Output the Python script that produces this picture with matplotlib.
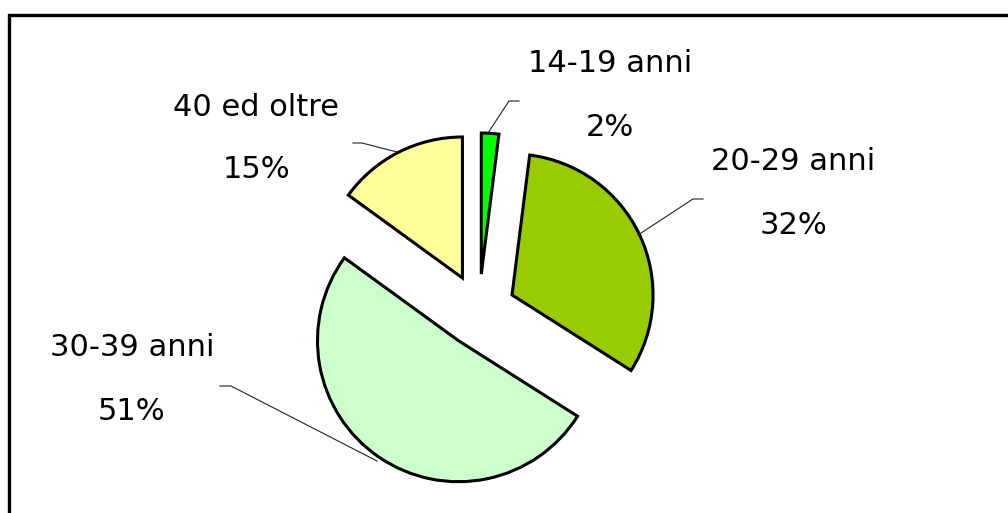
import matplotlib.pyplot as plt

# eta degli iscritti (percentuali)
fasce = ['14-19 anni', '20-29 anni', '30-39 anni', '40 ed oltre']
quote = [2, 32, 51, 15]
colori = ['#00ff00', '#99cc00', '#ccffcc', '#ffff99']

W, H = 1008, 513
fig = plt.figure(figsize=(W / 100, H / 100), dpi=100)
ax = fig.add_axes([0, 0, 1, 1])

# pixel coords, y pointing up
cx, cy, r = 479, H - 310.5, 141
ax.pie(quote, explode=[36.5] * 4, colors=colori, startangle=90,
       counterclock=False, radius=r, center=(cx, cy), frame=True,
       wedgeprops=dict(edgecolor='black', linewidth=2.2))

# label positions (x, y of first line) and leader lines
pos_lbl = [(610, 64), (793, 162), (132, 348), (256, 107)]
leaders = [
    [(519, 101), (509, 101), (488, 133)],
    [(703, 199), (693, 199), (638, 235)],
    [(220, 386), (231, 386), (377, 461)],
    [(353, 143), (362, 143), (397, 152)],
]

for nome, q, (x, y), pts in zip(fasce, quote, pos_lbl, leaders):
    ax.text(x, H - y, nome, ha='center', va='center', fontsize=22,
            family='DejaVu Sans', color='black')
    ax.text(x, H - y - 63, f'{q}%', ha='center', va='center', fontsize=22,
            family='DejaVu Sans', color='black')
    xs = [p[0] for p in pts]
    ys = [H - p[1] for p in pts]
    ax.plot(xs, ys, color='#222222', lw=0.8)

# chart border (only top and left visible)
ax.plot([9, 9, W + 5], [-5, H - 14.5, H - 14.5], color='black', lw=2.4,
        solid_joinstyle='miter')

ax.set_xlim(0, W)
ax.set_ylim(0, H)
ax.set_aspect('auto')
ax.axis('off')

plt.savefig('out.png', dpi=100)
